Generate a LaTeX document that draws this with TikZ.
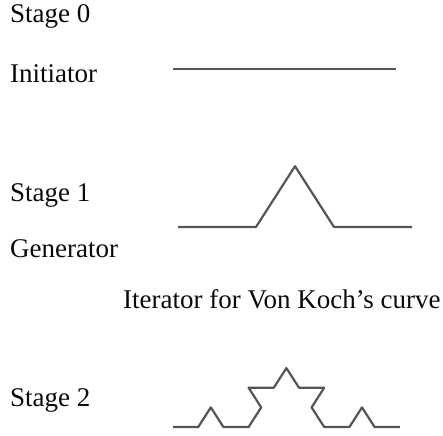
\documentclass[tikz,border=0pt]{standalone}
\usepackage{fontspec}
\setmainfont{Liberation Serif}
\usepackage{xcolor}
\usepackage{tikz}
\definecolor{blackmain}{HTML}{0A0A0A}
\definecolor{curvegray}{HTML}{555555}
\tikzset{kochline/.style={line width=2.2pt,curvegray,line join=round},
stagelabel/.style={anchor=base west,inner sep=0pt,font=\fontsize{27}{32}\selectfont,blackmain}}

\begin{document}
\begin{tikzpicture}
\useasboundingbox (0pt,0pt) rectangle (443pt,-435pt);
% labels
\node[stagelabel] (stage0) at (10pt,-23pt) {Stage 0};
\node[stagelabel] (init) at (10pt,-83pt) {Initiator};
\node[stagelabel] (stage1) at (10pt,-202pt) {Stage 1};
\node[stagelabel] (gen) at (10pt,-257pt) {Generator};
\node[stagelabel] (iter) at (123pt,-308pt) {Iterator for Von Koch’s curve};
\node[stagelabel] (stage2) at (10pt,-406pt) {Stage 2};
% stage 0
\coordinate (i0) at (173pt,-69pt);
\coordinate (i1) at (396pt,-69pt);
\draw[kochline] (i0) -- (i1);
% stage 1
\coordinate (g0) at (178pt,-227pt);
\coordinate (g4) at (412pt,-227pt);
\draw[kochline] (g0) -- (256pt,-227pt) -- (295pt,-166.2pt) -- (334pt,-227pt) -- (g4);
% stage 2
\coordinate (k0) at (173pt,-427pt);
\coordinate (k16) at (399.8pt,-427pt);
\draw[kochline] (k0) -- (198.2pt,-427pt) -- (210.8pt,-407.4pt) -- (223.4pt,-427pt) -- (248.6pt,-427pt)
  -- (261.2pt,-407.4pt) -- (248.6pt,-387.7pt) -- (273.8pt,-387.7pt) -- (286.4pt,-368.1pt)
  -- (299pt,-387.7pt) -- (324.2pt,-387.7pt) -- (311.6pt,-407.4pt) -- (324.2pt,-427pt)
  -- (349.4pt,-427pt) -- (362pt,-407.4pt) -- (374.6pt,-427pt) -- (k16);
\end{tikzpicture}
\end{document}
